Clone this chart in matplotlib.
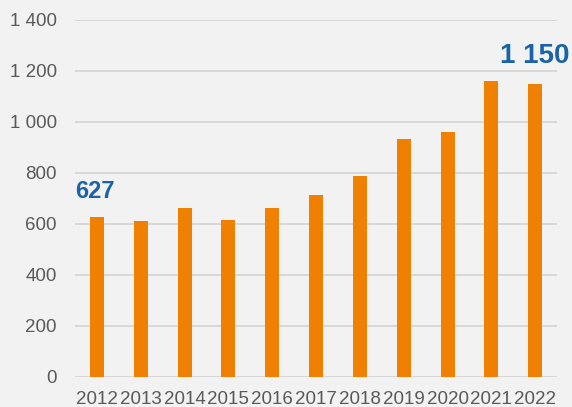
import matplotlib.pyplot as plt

years = ['2012', '2013', '2014', '2015', '2016', '2017', '2018', '2019', '2020', '2021', '2022']
values = [627, 612, 663, 616, 663, 714, 788, 933, 961, 1161, 1150]
yticks = [0, 200, 400, 600, 800, 1000, 1200, 1400]

def fmt(v):
    return f"{v:,}".replace(',', ' ')

plt.rcParams['font.family'] = ['Liberation Sans', 'DejaVu Sans']

fig = plt.figure(figsize=(5.72, 4.07), dpi=100, facecolor='#f2f2f2')
ax = fig.add_axes([0.131, 0.074, 0.843, 0.877])
ax.set_facecolor('#f2f2f2')

x = list(range(len(years)))
ax.bar(x, values, width=0.32, color='#f08000', zorder=3)

ax.set_xlim(-0.5, len(years) - 0.5)
ax.set_ylim(0, 1400)
ax.set_yticks(yticks)
ax.set_yticklabels([fmt(v) for v in yticks])
ax.set_xticks(x)
ax.set_xticklabels(years)
ax.tick_params(axis='both', length=0, labelsize=13.5, colors='#595959')
ax.tick_params(axis='y', pad=13)
ax.tick_params(axis='x', pad=10)
ax.grid(axis='y', color='#d6d6d6', linewidth=1.3, zorder=0)
for s in ax.spines.values():
    s.set_visible(False)

# labels on first and last bar
ax.text(x[0] - 0.05, values[0] + 100, fmt(values[0]), ha='center', va='center',
        fontsize=17, fontweight='bold', color='#1a63a8')
ax.text(x[-1], values[-1] + 110, fmt(values[-1]), ha='center', va='center',
        fontsize=20, fontweight='bold', color='#1a63a8')

fig.savefig('out.png', dpi=100, facecolor=fig.get_facecolor())
